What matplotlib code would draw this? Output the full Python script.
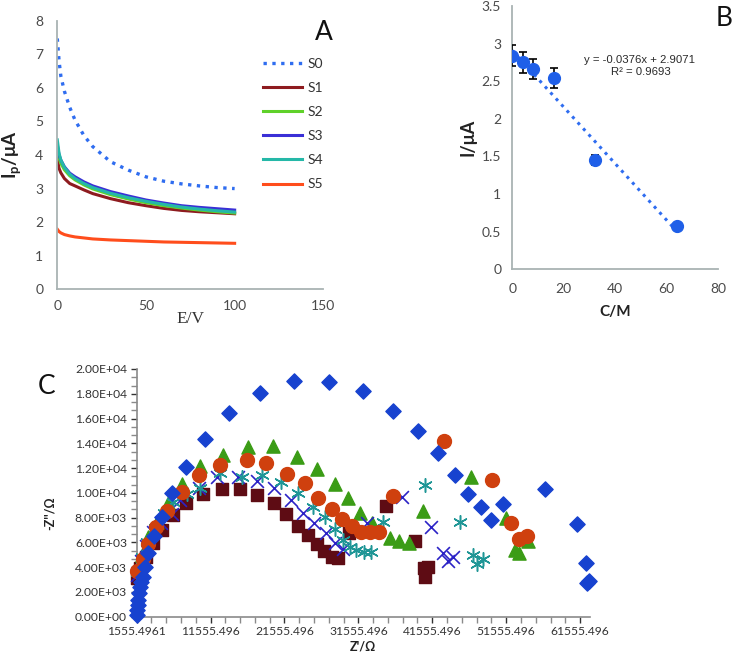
import matplotlib
matplotlib.use('Agg')
import matplotlib.pyplot as plt
from matplotlib.ticker import MultipleLocator, AutoMinorLocator, FuncFormatter

plt.rcParams['font.family'] = ['Lato', 'DejaVu Sans']
plt.rcParams['mathtext.fontset'] = 'custom'
plt.rcParams['mathtext.rm'] = 'Lato'
plt.rcParams['mathtext.bf'] = 'Lato:bold'

# ---------------- panel A : Ip vs E ----------------
E = [0, 1, 2, 4, 7, 10, 15, 20, 30, 40, 50, 60, 70, 80, 90, 100]
s0 = [7.47, 6.80, 6.35, 5.90, 5.42, 5.04, 4.58, 4.25, 3.80, 3.55, 3.35, 3.22, 3.14, 3.08, 3.03, 3.00]
s1 = [3.90, 3.60, 3.47, 3.30, 3.15, 3.08, 2.96, 2.85, 2.70, 2.58, 2.49, 2.41, 2.35, 2.31, 2.28, 2.25]
s2 = [4.20, 3.90, 3.75, 3.56, 3.38, 3.26, 3.11, 2.99, 2.82, 2.69, 2.58, 2.49, 2.42, 2.36, 2.31, 2.27]
s3 = [4.30, 4.00, 3.85, 3.65, 3.46, 3.35, 3.20, 3.08, 2.91, 2.78, 2.66, 2.57, 2.49, 2.44, 2.40, 2.36]
s4 = [4.45, 4.05, 3.85, 3.63, 3.43, 3.30, 3.15, 3.03, 2.86, 2.73, 2.62, 2.53, 2.45, 2.39, 2.34, 2.30]
s5 = [1.79, 1.72, 1.68, 1.63, 1.59, 1.56, 1.53, 1.50, 1.47, 1.45, 1.43, 1.41, 1.40, 1.39, 1.38, 1.37]
names = ['S0', 'S1', 'S2', 'S3', 'S4', 'S5']
colors_a = ['#2f6df0', '#8e1b1f', '#5fd12a', '#3a2fd6', '#25b8a8', '#ff4d1c']

# ---------------- panel B : I vs C ----------------
conc = [0, 4, 8, 16, 32, 64]
current = [2.84, 2.75, 2.66, 2.54, 1.45, 0.57]
err = [0.14, 0.14, 0.13, 0.13, 0.07, 0.03]
slope, intercept = -0.0376, 2.9071
r2 = 0.9693

# ---------------- panel C : Nyquist ----------------
dia_x = [1555, 1650, 1740, 1780, 1870, 2010, 2140, 2370, 2680, 3140, 3900, 4940, 6290, 8230, 10800,
         14050, 18250, 22890, 27630, 32230, 36200, 39680, 42380, 44640, 46440, 48160, 49470, 51090,
         56820, 61200, 62330, 62820, 62460]
dia_y = [130, 540, 940, 1350, 1890, 2420, 2830, 3230, 4040, 5110, 6510, 8070, 9950, 12100, 14370,
         16460, 18100, 19050, 18970, 18240, 16620, 14980, 13180, 11430, 9870, 8820, 7800, 9090,
         10330, 7480, 4360, 2910, 2740]
sq_x = [1560, 2010, 2820, 3720, 4940, 6430, 8230, 10490, 13060, 15540, 17830, 20140, 21760, 23440,
        24790, 25920, 26910, 27940, 28850, 30290, 35310, 39230, 40440, 41030, 40580]
sq_y = [3090, 3900, 4840, 5920, 6990, 8200, 9200, 9870, 10300, 10300, 9820, 9200, 8260, 7340,
        6590, 5860, 5270, 4840, 4710, 6730, 8960, 6110, 3900, 3980, 3230]
tri_x = [1700, 2300, 3140, 4350, 5830, 7650, 10120, 13280, 16660, 20050, 23210, 25920, 28400, 30120,
         31780, 33400, 35840, 37100, 38410, 40350, 46810, 51540, 52760, 53350, 54480]
tri_y = [3900, 5000, 6460, 7670, 9160, 10710, 12170, 13030, 13680, 13780, 12870, 11900, 10710, 9610,
         8400, 7590, 6320, 6130, 5970, 8550, 11300, 7940, 5380, 5110, 6110]
x_x = [1600, 2100, 2850, 3800, 4900, 6290, 7420, 10030, 12470, 15310, 17800, 20180, 22440, 24100,
       25600, 27180, 28400, 29520, 32680, 37510, 41390, 42970, 43740, 44410]
x_y = [3400, 4500, 5700, 6800, 7600, 8300, 9420, 10370, 11300, 11300, 10980, 10370, 9420, 8400,
       7590, 6730, 5980, 5440, 7540, 9680, 7260, 5170, 4490, 4840]
ast_x = [1650, 2250, 3000, 4000, 5200, 6500, 8300, 10120, 12830, 15770, 18560, 21090, 23430, 25460,
         27040, 28400, 29520, 30400, 31300, 32300, 33300, 34850, 40580, 45310, 47030, 47570, 48380]
ast_y = [3600, 4800, 6000, 7200, 8400, 9300, 9900, 10370, 11580, 11300, 11440, 10900, 9960, 8880,
         8030, 7060, 6190, 5620, 5380, 5250, 5250, 7670, 10630, 7670, 4980, 4250, 4650]
circ_x = [1650, 2370, 3140, 4170, 5710, 7650, 9990, 12830, 16440, 19010, 21940, 24330, 26140, 27940,
          29390, 30650, 31910, 33130, 34400, 36290, 43190, 49690, 52220, 53300, 54330]
circ_y = [3710, 4630, 5840, 7210, 8550, 10090, 11430, 12240, 12640, 12370, 11510, 10810, 9600, 8690,
          7860, 7320, 6860, 6810, 6830, 9770, 14180, 11030, 7590, 6240, 6540]
zre_ticks = [1555.4961, 11555.496, 21555.496, 31555.496, 41555.496, 51555.496, 61555.496]
zre_labels = ['1555.4961', '11555.496', '21555.496', '31555.496', '41555.496', '51555.496', '61555.496']

W, H = 734, 655
fig = plt.figure(figsize=(W / 100, H / 100), dpi=100)

def box(l, t, r, b):
    return [l / W, 1 - b / H, (r - l) / W, (b - t) / H]

tick_col = '#4a4a4a'
spine_ab = '#a9b3b3'

# ---- A ----
axA = fig.add_axes(box(57.3, 20.7, 323.3, 289.3))
styles = [':', '-', '-', '-', '-', '-']
series = [s0, s1, s2, s3, s4, s5]
for s, n, c, ls in zip(series, names, colors_a, styles):
    axA.plot(E, s, ls, color=c, lw=2.2 if ls == '-' else 2.4, label=n)
axA.set_xlim(0, 150)
axA.set_ylim(0, 8)
axA.set_xticks([0, 50, 100, 150])
axA.set_yticks(range(0, 9))
for sp in ['top', 'right']:
    axA.spines[sp].set_visible(False)
for sp in ['left', 'bottom']:
    axA.spines[sp].set_color(spine_ab)
    axA.spines[sp].set_linewidth(1.3)
axA.tick_params(length=0, labelsize=10, colors=tick_col)
axA.tick_params(axis='y', pad=10)
axA.tick_params(axis='x', pad=8)
axA.set_xlabel('E/V', fontfamily='Liberation Serif', fontsize=12.5, color='#333333', labelpad=-1)
axA.set_ylabel(r'I$_\mathbf{p}$/μA', fontsize=13.5, fontweight='bold', color='#222222', labelpad=8)
axA.legend(loc='upper left', bbox_to_anchor=(263 / W, 1 - 58 / H), bbox_transform=fig.transFigure,
           frameon=False, fontsize=10, handlelength=2.8, handletextpad=0.4, labelspacing=0.87,
           borderpad=0, borderaxespad=0, labelcolor='#333333')
fig.text(324 / W, 1 - 32 / H, 'A', fontsize=19, ha='center', va='center', color='#111111')

# ---- B ----
axB = fig.add_axes(box(512.3, 6, 718.3, 269.3))
tx = [conc[0], conc[-1]]
axB.plot(tx, [intercept + slope * v for v in tx], ':', color='#2f6df0', lw=2.2)
axB.errorbar(conc, current, yerr=err, fmt='o', color='#1f5fe8', ms=8.5, ecolor='black',
             elinewidth=1.2, capsize=3, capthick=1.2, zorder=3)
axB.set_xlim(0, 80)
axB.set_ylim(0, 3.5)
axB.set_xticks(range(0, 81, 20))
axB.set_yticks([0, 0.5, 1, 1.5, 2, 2.5, 3, 3.5])
axB.set_yticklabels(['0', '0.5', '1', '1.5', '2', '2.5', '3', '3.5'])
for sp in ['top', 'right']:
    axB.spines[sp].set_visible(False)
for sp in ['left', 'bottom']:
    axB.spines[sp].set_color(spine_ab)
    axB.spines[sp].set_linewidth(1.3)
axB.tick_params(length=0, labelsize=10, colors=tick_col)
axB.tick_params(axis='y', pad=8)
axB.tick_params(axis='x', pad=10)
axB.set_ylabel('I/μA', fontsize=13, fontweight='bold', color='#222222', labelpad=4)
axB.set_xlabel('C/M', fontsize=11, fontweight='bold', color='#222222', labelpad=7)
fig.text(640 / W, 1 - 60 / H, 'y = -0.0376x + 2.9071', fontfamily='Liberation Sans', fontsize=8.2,
         ha='center', va='center', color='#2a2a2a')
fig.text(641 / W, 1 - 72 / H, 'R² = %.4f' % r2, fontfamily='Liberation Sans', fontsize=8.2,
         ha='center', va='center', color='#2a2a2a')
fig.text(724 / W, 1 - 19 / H, 'B', fontsize=19, ha='center', va='center', color='#111111')

# ---- C ----
axC = fig.add_axes(box(136.7, 369, 590, 616.7))
kw = dict(clip_on=False)
axC.scatter(sq_x, sq_y, marker='s', s=75, color='#5e0c14', zorder=2, **kw)
axC.scatter(tri_x, tri_y, marker='^', s=90, color='#3b9c16', zorder=3, **kw)
axC.scatter(x_x, x_y, marker='x', s=85, color='#2b22c6', linewidths=1.2, zorder=4, **kw)
axC.scatter(ast_x, ast_y, marker=(6, 2, 0), s=95, color='#1f9696', linewidths=1.1, zorder=5, **kw)
axC.scatter(circ_x, circ_y, marker='o', s=100, color='#cf400e', zorder=6, **kw)
axC.scatter(dia_x, dia_y, marker='D', s=60, color='#1742cf', zorder=7, **kw)
axC.set_xlim(1555.4961, 62900)
axC.set_ylim(0, 20000)
axC.set_xticks(zre_ticks)
axC.set_xticklabels(zre_labels)
axC.xaxis.set_minor_locator(MultipleLocator(2000, offset=1555.4961))
axC.yaxis.set_major_locator(MultipleLocator(2000))
axC.yaxis.set_minor_locator(AutoMinorLocator(3))
axC.yaxis.set_major_formatter(FuncFormatter(lambda v, p: '%.2E' % v))
for sp in ['top', 'right']:
    axC.spines[sp].set_visible(False)
for sp in ['left', 'bottom']:
    axC.spines[sp].set_color('#8a8a8a')
    axC.spines[sp].set_linewidth(1.2)
axC.tick_params(which='both', direction='out', length=4, width=1, color='#8a8a8a')
axC.tick_params(labelsize=8.7, colors='#333333', which='major')
axC.tick_params(which='major', pad=3)
axC.set_ylabel("-Z''/Ω", fontsize=9, fontweight='bold', color='#222222')
axC.yaxis.set_label_coords(-0.178, 0.419)
axC.set_xlabel("Z'/Ω", fontsize=9, fontweight='bold', color='#222222', labelpad=2)
fig.text(47 / W, 1 - 386 / H, 'C', fontsize=19, ha='center', va='center', color='#111111')

fig.savefig('out.png', dpi=100)
